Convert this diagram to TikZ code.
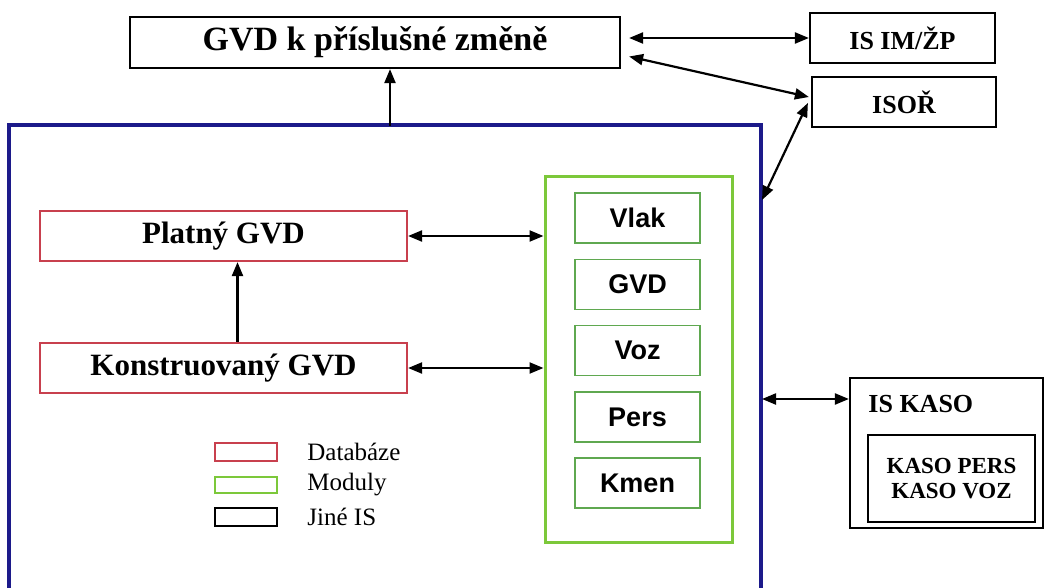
\documentclass[tikz,border=0pt]{standalone}
\usepackage{fontspec}
\setmainfont{Liberation Serif}
\setsansfont{Liberation Sans}
\usetikzlibrary{arrows.meta, positioning, calc}
\definecolor{cblue}{HTML}{1C1A8A}
\definecolor{cred}{HTML}{C8404E}
\definecolor{cgreen}{HTML}{7CC83A}
\definecolor{cmodgreen}{HTML}{5FA850}
\tikzset{
  every picture/.style={line width=2.2pt},
  box/.style={draw=#1, rectangle, align=center, inner sep=0pt},
  box/.default=black,
  big/.style={font=\bfseries\fontsize{31}{33}\selectfont},
  mid/.style={font=\bfseries\fontsize{26}{28}\selectfont},
  arrow/.style={-{Triangle[length=14pt,width=11pt]}, draw=black},
  darrow/.style={{Triangle[length=14pt,width=11pt]}-{Triangle[length=14pt,width=11pt]}, draw=black},
  legtext/.style={anchor=west, font=\fontsize{25}{27}\selectfont},
}
\begin{document}
\begin{tikzpicture}[x=1pt, y=-1pt]
  \useasboundingbox (0,0) rectangle (1054,588);
  \node[box, font=\bfseries\fontsize{34}{36}\selectfont, minimum width=490pt, minimum height=51pt] (zmena) at (375,42.5) {GVD k příslušné změně};
  \node[box, mid, minimum width=185pt, minimum height=50pt] (isim) at (902.5,38) {IS IM/ŽP};
  \node[box, mid, minimum width=184pt, minimum height=50pt] (isor) at (904,102) {ISOŘ};
  \node[minimum width=750pt, minimum height=480pt, inner sep=0pt] (sys) at (385,366) {};
  \draw[cblue, line width=3.8pt] (sys.south west) |- (sys.north east) -- (sys.south east);
  \node[box=cred, big, minimum width=367pt, minimum height=50pt] (platny) at (223.5,236) {Platný GVD};
  \node[box=cred, big, minimum width=367pt, minimum height=50pt] (konstr) at (223.5,368) {Konstruovaný GVD};
  \node[box=cgreen, line width=3pt, minimum width=187pt, minimum height=365pt] (moduly) at (638.5,359.5) {};
  \foreach \name [count=\i from 0] in {Vlak, GVD, Voz, Pers, Kmen}
    \node[box=cmodgreen, line width=1.6pt, minimum width=125pt, minimum height=50pt,
          font=\sffamily\bfseries\fontsize{27}{29}\selectfont] (mod\i) at (637.5,218+66.3*\i) {\name};
  \node[box, minimum width=193pt, minimum height=150pt] (kaso) at (946.5,453) {};
  \node[mid, anchor=west] (kasolbl) at (864,404) {IS KASO};
  \node[box, line width=1.6pt, minimum width=167pt, minimum height=87pt,
        font=\bfseries\fontsize{23}{25}\selectfont] (kasoin) at (951.5,478.5) {KASO PERS\\KASO VOZ};
  \node[box=cred, line width=1.8pt, minimum width=62pt, minimum height=18pt] (legdb) at (246,452) {};
  \node[box=cgreen, line width=1.8pt, minimum width=62pt, minimum height=16pt] (legmod) at (246,485) {};
  \node[box, line width=1.8pt, minimum width=62pt, minimum height=18pt] (legis) at (246,517) {};
  \node[legtext] (legdbt) at (303,452) {Databáze};
  \node[legtext] (legmodt) at (303,485) {Moduly};
  \node[legtext] (legist) at (303,517) {Jiné IS};
  \coordinate (sysup) at (390,126);
  \coordinate (sysor) at (762,200);
  \coordinate (syskaso) at (762,399);
  \draw[arrow] (sysup) -- (sysup |- zmena.south);
  \draw[darrow] ([xshift=8pt]zmena.east |- isim.west) -- (isim.west);
  \draw[darrow] ([xshift=8pt,yshift=-14pt]zmena.east) -- ([xshift=-2pt,yshift=5pt]isor.west);
  \draw[darrow] ([xshift=-3pt,yshift=-1pt]isor.west) -- (sysor);
  \draw[darrow] (platny.east) -- (platny.east -| moduly.west);
  \draw[darrow] (konstr.east) -- (konstr.east -| moduly.west);
  \draw[arrow] ([xshift=14pt]konstr.north) -- ([xshift=14pt]platny.south);
  \draw[darrow] (syskaso) -- (syskaso -| kaso.west);
\end{tikzpicture}
\end{document}
